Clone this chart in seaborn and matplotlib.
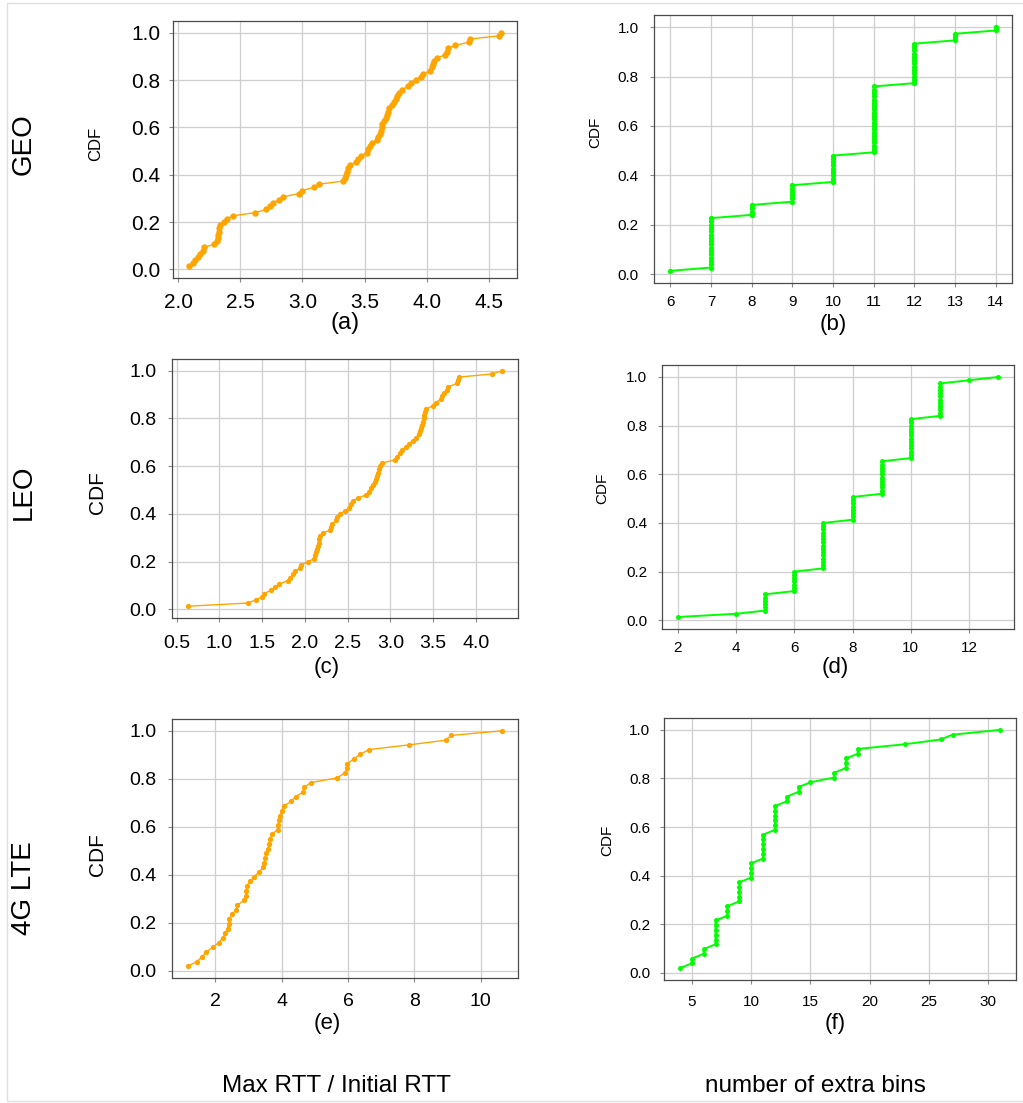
import numpy as np
import matplotlib
matplotlib.use("Agg")
import matplotlib.pyplot as plt
import seaborn as sns
from matplotlib.patches import Rectangle

# ---- data: per-flow measurements, one value per flow ----
geo_rtt_ratio = [
    2.085, 2.12, 2.14, 2.16, 2.175, 2.2, 2.21, 2.29, 2.31, 2.32,
    2.325, 2.33, 2.33, 2.34, 2.37, 2.39, 2.44, 2.62, 2.71, 2.74,
    2.76, 2.81, 2.84, 2.97, 3.0, 3.09, 3.13, 3.33, 3.34, 3.35,
    3.36, 3.37, 3.38, 3.43, 3.45, 3.47, 3.52, 3.53, 3.54, 3.56,
    3.6, 3.61, 3.62, 3.63, 3.64, 3.64, 3.66, 3.67, 3.68, 3.69,
    3.7, 3.72, 3.74, 3.75, 3.76, 3.78, 3.8, 3.85, 3.87, 3.91,
    3.95, 3.97, 4.03, 4.04, 4.05, 4.06, 4.08, 4.15, 4.16, 4.17,
    4.23, 4.34, 4.35, 4.58, 4.6,
]
leo_rtt_ratio = [
    0.63, 1.33, 1.43, 1.5, 1.52, 1.61, 1.65, 1.7, 1.8, 1.83,
    1.86, 1.89, 1.94, 1.96, 2.04, 2.11, 2.12, 2.13, 2.14, 2.15,
    2.16, 2.17, 2.18, 2.21, 2.3, 2.31, 2.32, 2.37, 2.38, 2.41,
    2.47, 2.52, 2.54, 2.56, 2.62, 2.72, 2.75, 2.77, 2.8, 2.82,
    2.83, 2.85, 2.86, 2.87, 2.88, 2.9, 3.06, 3.08, 3.11, 3.14,
    3.18, 3.22, 3.26, 3.3, 3.33, 3.35, 3.36, 3.37, 3.38, 3.39,
    3.4, 3.41, 3.42, 3.5, 3.53, 3.59, 3.61, 3.63, 3.66, 3.68,
    3.78, 3.79, 3.8, 4.19, 4.31,
]
lte_rtt_ratio = [
    1.17, 1.45, 1.6, 1.73, 1.92, 2.1, 2.23, 2.3, 2.37, 2.4,
    2.42, 2.5, 2.63, 2.67, 2.87, 2.92, 2.93, 2.95, 3.05, 3.17,
    3.32, 3.45, 3.48, 3.5, 3.53, 3.6, 3.62, 3.66, 3.7, 3.88,
    3.9, 3.93, 3.96, 4.0, 4.07, 4.28, 4.42, 4.65, 4.67, 4.88,
    5.67, 5.9, 5.97, 5.98, 6.17, 6.37, 6.63, 7.83, 8.95, 9.1,
    10.65,
]

# extra bins: distinct values and how many flows took each
geo_bin_values = [6, 7, 8, 9, 10, 11, 12, 13, 14]
geo_bin_counts = [1, 16, 4, 6, 9, 21, 13, 3, 2]
leo_bin_values = [2, 4, 5, 6, 7, 8, 9, 10, 11, 12, 13]
leo_bin_counts = [1, 1, 6, 7, 15, 8, 11, 13, 11, 1, 1]
lte_bin_values = [4, 5, 6, 7, 8, 9, 10, 11, 12, 13, 14, 15, 17, 18, 19, 23, 26, 27, 31]
lte_bin_counts = [1, 2, 2, 6, 3, 5, 4, 6, 6, 2, 2, 1, 2, 3, 2, 1, 1, 1, 1]

row_labels = ["GEO", "LEO", "4G LTE"]
panel_tags = ["(a)", "(b)", "(c)", "(d)", "(e)", "(f)"]
col_labels = ["Max RTT / Initial RTT", "number of extra bins"]

ratio_xticks = [
    [2.0, 2.5, 3.0, 3.5, 4.0, 4.5],
    [0.5, 1.0, 1.5, 2.0, 2.5, 3.0, 3.5, 4.0],
    [2, 4, 6, 8, 10],
]
bins_xticks = [
    [6, 7, 8, 9, 10, 11, 12, 13, 14],
    [2, 4, 6, 8, 10, 12],
    [5, 10, 15, 20, 25, 30],
]
cdf_yticks = [0.0, 0.2, 0.4, 0.6, 0.8, 1.0]

# ---- style ----
sns.set_theme(style="whitegrid")
plt.rcParams["font.family"] = ["Liberation Sans", "DejaVu Sans"]

W, H = 1023, 1103
fig = plt.figure(figsize=(W / 100, H / 100), dpi=100)
fig.patch.set_facecolor("white")


def px_box(l, t, r, b):
    return [l / W, 1 - b / H, (r - l) / W, (b - t) / H]


def px_text(x, y, s, **kw):
    fig.text(x / W, 1 - y / H, s, ha="center", va="center", **kw)


ORANGE = "#FFA500"
GREEN = "#00FF00"

panels = [
    # data, tick values, box (l, t, r, b), colour, marker size, line width,
    # tick fontsize, x pad, y pad, fmt, CDF label pos, CDF size, tag pos, tag size
    dict(x=np.sort(geo_rtt_ratio), ticks=ratio_xticks[0], box=(173, 21, 517, 278),
         color=ORANGE, ms=4.6, lw=1.0, tsize=15, xpad=8, ypad=6, fmt="{:.1f}",
         cdf=(96, 144), csize=12, tag=(345, 323), tagsize=17),
    dict(x=np.repeat(geo_bin_values, geo_bin_counts), ticks=bins_xticks[0], box=(654, 15, 1012, 283),
         color=GREEN, ms=3.8, lw=1.4, tsize=11, xpad=6, ypad=8, fmt="{:d}",
         cdf=(595, 132), csize=11, tag=(833, 325), tagsize=16),
    dict(x=np.sort(leo_rtt_ratio), ticks=ratio_xticks[1], box=(172, 359, 518, 618),
         color=ORANGE, ms=3.8, lw=1.0, tsize=14, xpad=9, ypad=8, fmt="{:.1f}",
         cdf=(98, 493), csize=15, tag=(327, 667), tagsize=16),
    dict(x=np.repeat(leo_bin_values, leo_bin_counts), ticks=bins_xticks[1], box=(662, 365, 1014, 629),
         color=GREEN, ms=3.6, lw=1.4, tsize=11, xpad=5.5, ypad=7.5, fmt="{:d}",
         cdf=(602, 488), csize=11, tag=(835, 667), tagsize=16),
    dict(x=np.sort(lte_rtt_ratio), ticks=ratio_xticks[2], box=(172, 719, 518, 978),
         color=ORANGE, ms=3.8, lw=1.0, tsize=14, xpad=7.5, ypad=8, fmt="{:d}",
         cdf=(98, 855), csize=15, tag=(327, 1023), tagsize=16),
    dict(x=np.repeat(lte_bin_values, lte_bin_counts), ticks=bins_xticks[2], box=(664, 718, 1016, 980),
         color=GREEN, ms=3.6, lw=1.4, tsize=11, xpad=8, ypad=7, fmt="{:d}",
         cdf=(607, 840), csize=11, tag=(835, 1023), tagsize=16),
]

for i, p in enumerate(panels):
    ax = fig.add_axes(px_box(*p["box"]))
    xs = np.asarray(p["x"], dtype=float)
    cdf = np.arange(1, len(xs) + 1) / len(xs)
    sns.lineplot(x=xs, y=cdf, ax=ax, color=p["color"], linewidth=p["lw"],
                 marker="o", markersize=p["ms"], markeredgewidth=0,
                 markerfacecolor=p["color"], estimator=None, sort=False)
    ax.set_facecolor("white")
    ax.set_xticks(p["ticks"])
    ax.set_xticklabels([p["fmt"].format(t) for t in p["ticks"]])
    ax.set_yticks(cdf_yticks)
    ax.set_yticklabels([f"{t:.1f}" for t in cdf_yticks])
    ax.margins(x=0.05, y=0.05)
    ax.grid(True, color="#cfcfcf", linewidth=0.9)
    ax.set_axisbelow(True)
    for s in ax.spines.values():
        s.set_visible(True)
        s.set_color("#4a4a4a")
        s.set_linewidth(0.9)
    ax.tick_params(axis="both", which="major", length=3, width=0.8, color="#888888",
                   labelcolor="black", labelsize=p["tsize"], bottom=True, left=True)
    ax.tick_params(axis="x", pad=p["xpad"])
    ax.tick_params(axis="y", pad=p["ypad"])
    ax.set_xlabel("")
    ax.set_ylabel("")

    px_text(p["cdf"][0], p["cdf"][1], "CDF", rotation=90, fontsize=p["csize"], color="black")
    px_text(p["tag"][0], p["tag"][1], panel_tags[i], fontsize=p["tagsize"], color="black")

# row labels on the left
for label, yc in zip(row_labels, [144, 492, 888]):
    px_text(24, yc, label, rotation=90, fontsize=20, color="black")

# column quantity labels at the bottom
px_text(336, 1086, col_labels[0], fontsize=17.5, color="black")
px_text(815, 1086, col_labels[1], fontsize=17.5, color="black")

# thin frame around the whole figure
fig.add_artist(Rectangle((7 / W, 1 - 1101 / H), 1.1, (1101 - 3) / H,
                         transform=fig.transFigure, fill=False,
                         edgecolor="#e0e0e0", linewidth=1.0))

fig.savefig("out.png", dpi=100, facecolor="white")
